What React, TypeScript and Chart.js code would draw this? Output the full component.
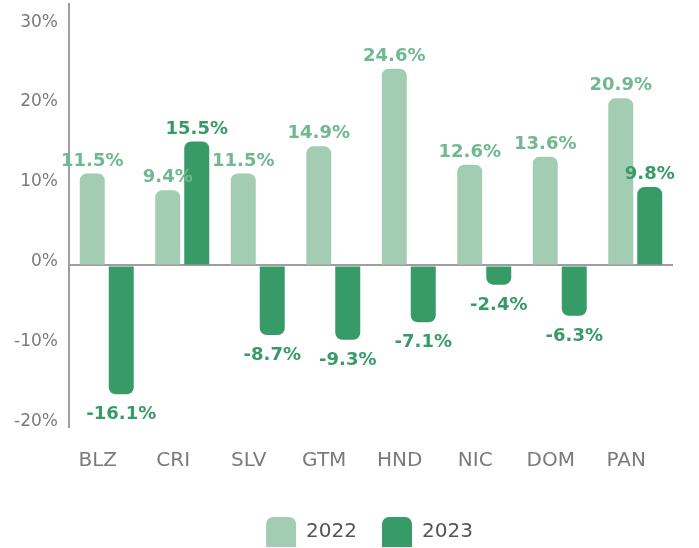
import React, { useEffect, useRef } from "react";
import { Chart, registerables } from "chart.js";

Chart.register(...registerables);

const categories = ["BLZ", "CRI", "SLV", "GTM", "HND", "NIC", "DOM", "PAN"];
const values2022 = [11.5, 9.4, 11.5, 14.9, 24.6, 12.6, 13.6, 20.9];
const values2023 = [-16.1, 15.5, -8.7, -9.3, -7.1, -2.4, -6.3, 9.8];
const seriesNames = ["2022", "2023"];
const yTicks = [-20, -10, 0, 10, 20, 30];

const LIGHT = "#a3cdb3";
const DARK = "#379b68";
const LIGHT_TEXT = "#6fb890";
const DARK_TEXT = "#379b68";
const AXIS = "#a29d9d";
const TICK = "#7b7b7b";
const FONT = "'DejaVu Sans', sans-serif";
const LEGEND_PAD = 25;

const labelPlugin = {
  id: "barValueLabels",
  afterLayout(chart: any) {
    const lg = chart.legend;
    if (lg) {
      lg.left += 33;
      lg.right += 33;
    }
  },
  afterDatasetsDraw(chart: any) {
    const ctx = chart.ctx;
    ctx.save();
    ctx.font = `bold 18px ${FONT}`;
    ctx.textAlign = "center";
    ctx.textBaseline = "alphabetic";
    chart.data.datasets.forEach((ds: any, di: number) => {
      const meta = chart.getDatasetMeta(di);
      ctx.fillStyle = di === 0 ? LIGHT_TEXT : DARK_TEXT;
      meta.data.forEach((el: any, i: number) => {
        const v = ds.data[i];
        const txt = v.toFixed(1) + "%";
        if (v >= 0) {
          ctx.fillText(txt, el.x, el.y - 8);
        } else {
          ctx.fillText(txt, el.x, el.y + 25);
        }
      });
    });
    ctx.restore();
  },
};

export default function App() {
  const ref = useRef<HTMLCanvasElement | null>(null);

  useEffect(() => {
    if (!ref.current) return;
    const chart = new Chart(ref.current, {
      type: "bar",
      data: {
        labels: categories,
        datasets: [
          {
            label: seriesNames[0],
            data: values2022,
            backgroundColor: LIGHT,
            borderRadius: 7,
            borderSkipped: "start",
            categoryPercentage: 0.768,
            barPercentage: 0.862,
          },
          {
            label: seriesNames[1],
            data: values2023,
            backgroundColor: DARK,
            borderRadius: 7,
            borderSkipped: "start",
            categoryPercentage: 0.768,
            barPercentage: 0.862,
          },
        ],
      },
      options: {
        animation: false,
        responsive: false,
        maintainAspectRatio: false,
        layout: { padding: { top: 4, right: 26, left: 0, bottom: -9 } },
        plugins: {
          tooltip: { enabled: false },
          legend: {
            position: "bottom",
            labels: {
              boxWidth: 30,
              boxHeight: 30,
              padding: LEGEND_PAD,
              color: "#555555",
              font: { family: FONT, size: 20 },
              useBorderRadius: true,
              borderRadius: { topLeft: 7, topRight: 7, bottomLeft: 0, bottomRight: 0 },
            } as any,
          },
        },
        scales: {
          x: {
            grid: { display: false },
            border: { display: false },
            afterFit: (scale: any) => {
              scale.height = 90 - LEGEND_PAD;
              scale.paddingLeft = 0;
              scale.paddingRight = 0;
            },
            ticks: {
              color: TICK,
              font: { family: FONT, size: 20 },
              padding: 14,
              labelOffset: -9,
            },
          },
          y: {
            min: -20.2,
            max: 32.7,
            afterBuildTicks: (scale: any) => {
              scale.ticks = yTicks.map((v) => ({ value: v }));
            },
            afterFit: (scale: any) => {
              scale.width = 69;
              scale.paddingTop = 0;
              scale.paddingBottom = 0;
            },
            grid: {
              drawTicks: false,
              lineWidth: 2,
              color: (c: any) => (c.tick && c.tick.value === 0 ? AXIS : "rgba(0,0,0,0)"),
            },
            border: { display: true, color: AXIS, width: 2 },
            ticks: {
              color: TICK,
              font: { family: FONT, size: 17 },
              padding: 11,
              labelOffset: -3.5,
              callback: (v: any) => v + "%",
            },
          },
        },
      },
      plugins: [labelPlugin],
    });
    return () => chart.destroy();
  }, []);

  return (
    <div style={{ position: "fixed", left: 0, top: 0, width: 699, height: 548, background: "#fff" }}>
      <canvas ref={ref} width={699} height={548} style={{ width: 699, height: 548, display: "block" }} />
    </div>
  );
}
